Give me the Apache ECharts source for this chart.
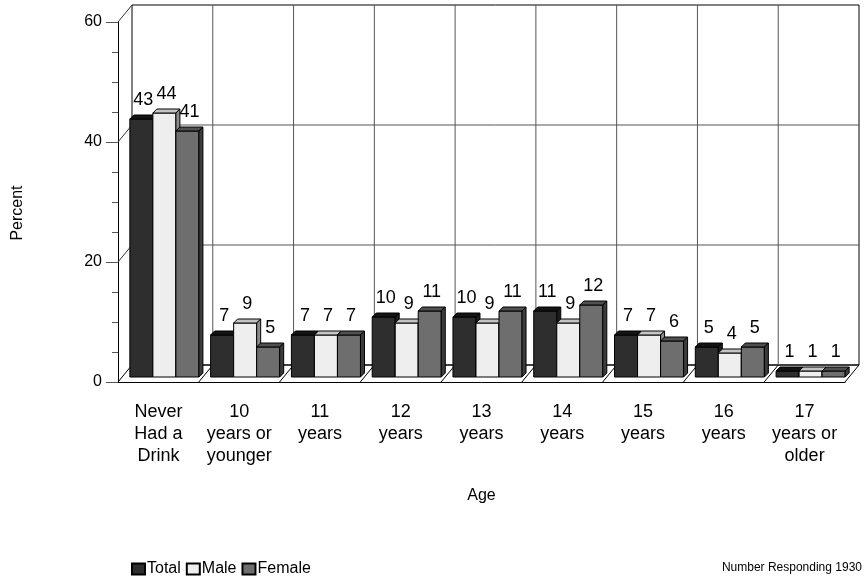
<!DOCTYPE html>
<html>
<head>
<meta charset="utf-8">
<script src="https://cdn.jsdelivr.net/npm/echarts@6/dist/echarts.min.js"></script>
<style>
  html, body { margin: 0; padding: 0; background: #fff; }
  #main { width: 867px; height: 578px; }
</style>
</head>
<body>
<div id="main"></div>
<script>
// data
var categories = ['Never\nHad a\nDrink', '10\nyears or\nyounger', '11\nyears', '12\nyears', '13\nyears',
                  '14\nyears', '15\nyears', '16\nyears', '17\nyears or\nolder'];
var seriesNames = ['Total', 'Male', 'Female'];
var totalValues = [43, 7, 7, 10, 10, 11, 7, 5, 1];
var maleValues = [44, 9, 7, 9, 9, 9, 7, 4, 1];
var femaleValues = [41, 5, 7, 11, 11, 12, 6, 5, 1];
var wallLines = [20, 40, 60];   // back wall grid levels
var yMax = 60;

var FONT = '"Liberation Sans", Arial, sans-serif';
var WALL = [14, -17];   // depth of the back wall
var SHIFT = [6, -5];    // bars sit a little into the floor
var DEPTH = 4;          // bar thickness
var faces = [
    {front: '#2e2e2e', top: '#141414', side: '#1c1c1c'},
    {front: '#eeeeee', top: '#c4c4c4', side: '#8a8a8a'},
    {front: '#6e6e6e', top: '#505050', side: '#3c3c3c'}
];

var chart = echarts.init(document.getElementById('main'));

function line(x1, y1, x2, y2, color, z2) {
    return {type: 'line', z2: z2 || 0, shape: {x1: x1, y1: y1, x2: x2, y2: y2},
        style: {stroke: color, lineWidth: 1}};
}

// floor, back wall and side wall of the 3D box
function renderFrame(params, api) {
    var i = api.value(0);
    var band = api.size([1, 0])[0];
    var c0 = api.coord([i, 0]);
    var left = c0[0] - band / 2;
    var y0 = c0[1];
    var top = api.coord([i, yMax])[1];
    var kids = [];
    // floor diagonal at left boundary
    kids.push(line(left, y0, left + WALL[0], y0 + WALL[1], '#000'));
    if (i > 0) {
        kids.push(line(left + WALL[0], y0 + WALL[1], left + WALL[0], top + WALL[1], '#555'));
    }
    if (i === categories.length - 1) {
        var right = left + band;
        kids.push(line(right, y0, right + WALL[0], y0 + WALL[1], '#000'));
    }
    if (i === 0) {
        var lastC = api.coord([categories.length - 1, 0]);
        var wallL = left + WALL[0], wallR = lastC[0] + band / 2 + WALL[0];
        kids.unshift({type: 'rect', z2: -1,
            shape: {x: wallL, y: top + WALL[1], width: wallR - wallL, height: y0 - top},
            style: {fill: '#fff', stroke: '#000', lineWidth: 1}});
        wallLines.forEach(function (v) {
            var y = api.coord([0, v])[1];
            if (v < yMax) kids.push(line(wallL, y + WALL[1], wallR, y + WALL[1], '#555'));
            kids.push(line(left, y, wallL, y + WALL[1], '#333'));
        });
        kids.push(line(wallL, y0 + WALL[1], wallR, y0 + WALL[1], '#000'));
    }
    return {type: 'group', children: kids};
}

function makeBarRenderer(k) {
    return function (params, api) {
        var i = api.value(0), v = api.value(1);
        var band = api.size([1, 0])[0];
        var bw = band * 0.285;
        var base = api.coord([i, 0]);
        var yTop = api.coord([i, v])[1] + SHIFT[1];
        var yBot = base[1] + SHIFT[1];
        var x0 = base[0] - 1.5 * bw + k * bw + SHIFT[0];
        var x1 = x0 + bw;
        var f = faces[k];
        var st = function (c) { return {fill: c, stroke: '#000', lineWidth: 1}; };
        return {
            type: 'group',
            children: [
                {type: 'rect', shape: {x: x0, y: yTop, width: bw, height: yBot - yTop}, style: st(f.front)},
                {type: 'polygon', shape: {points: [[x0, yTop], [x0 + DEPTH, yTop - DEPTH], [x1 + DEPTH, yTop - DEPTH], [x1, yTop]]},
                    style: st(f.top)},
                {type: 'polygon', shape: {points: [[x1, yTop], [x1 + DEPTH, yTop - DEPTH], [x1 + DEPTH, yBot - DEPTH], [x1, yBot]]},
                    style: st(f.side)},
                {type: 'text', z2: 10, style: {text: String(v), x: (x0 + x1) / 2 + DEPTH / 2, y: yTop - DEPTH - 6,
                    align: 'center', verticalAlign: 'bottom', font: '18px ' + FONT, fill: '#000'}}
            ]
        };
    };
}

var valueSets = [totalValues, maleValues, femaleValues];
var series = [{
    type: 'custom',
    name: 'frame',
    silent: true,
    z: 1,
    renderItem: renderFrame,
    data: categories.map(function (c, i) { return [i]; })
}];
seriesNames.forEach(function (name, k) {
    series.push({
        type: 'custom',
        name: name,
        z: 5,
        itemStyle: {color: faces[k].front, borderColor: '#000', borderWidth: 1},
        renderItem: makeBarRenderer(k),
        data: valueSets[k].map(function (v, i) { return [i, v]; })
    });
});

var option = {
    animation: false,
    backgroundColor: '#fff',
    textStyle: {fontFamily: FONT},
    grid: {left: 118, right: 22, top: 22, bottom: 196},
    legend: {
        data: seriesNames,
        left: 126, top: 556,
        itemWidth: 13, itemHeight: 11, itemGap: 5,
        icon: 'rect',
        textStyle: {fontSize: 16, color: '#000', fontFamily: FONT, padding: [0, 0, 0, -3]}
    },
    xAxis: {
        type: 'category',
        data: categories,
        name: 'Age',
        nameLocation: 'middle',
        nameGap: 106,
        nameTextStyle: {fontSize: 16, color: '#000'},
        axisLine: {lineStyle: {color: '#000'}},
        axisTick: {alignWithLabel: true, length: 10, lineStyle: {color: '#555'}},
        axisLabel: {fontSize: 18, color: '#000', lineHeight: 22, margin: 19, interval: 0}
    },
    yAxis: {
        type: 'value',
        min: 0, max: yMax, interval: 20,
        name: 'Percent',
        nameLocation: 'middle',
        nameGap: 92,
        nameTextStyle: {fontSize: 16, color: '#000', padding: [0, 22, 0, 0]},
        axisLine: {show: true, lineStyle: {color: '#000'}},
        axisTick: {show: true, length: 12, lineStyle: {color: '#555'}},
        minorTick: {show: true, splitNumber: 4, length: 6, lineStyle: {color: '#555'}},
        splitLine: {show: false},
        axisLabel: {fontSize: 16, color: '#000', margin: 16}
    },
    graphic: [{
        type: 'text', right: 5, top: 562,
        style: {text: 'Number Responding 1930', font: '12px ' + FONT, fill: '#000'}
    }],
    series: series
};

chart.setOption(option);
</script>
</body>
</html>
